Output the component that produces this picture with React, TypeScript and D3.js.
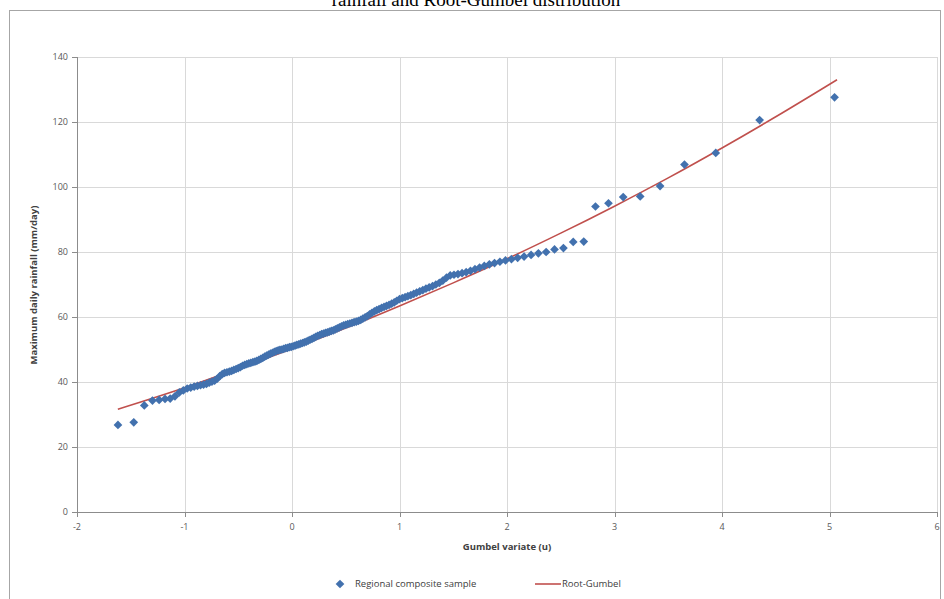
import React from "react";
import * as d3 from "d3";

const sampleU: number[] = [
  -1.619, -1.472, -1.374, -1.298, -1.236, -1.181, -1.133, -1.089, -1.048, -1.011,
  -0.975, -0.942, -0.91, -0.88, -0.851, -0.823, -0.796, -0.77, -0.745, -0.72,
  -0.696, -0.672, -0.649, -0.627, -0.605, -0.583, -0.562, -0.541, -0.52, -0.5,
  -0.48, -0.46, -0.44, -0.421, -0.402, -0.383, -0.364, -0.345, -0.327, -0.308,
  -0.29, -0.272, -0.254, -0.236, -0.218, -0.2, -0.182, -0.164, -0.147, -0.129,
  -0.112, -0.094, -0.077, -0.059, -0.042, -0.024, -0.007, 0.011, 0.028, 0.045,
  0.063, 0.08, 0.098, 0.115, 0.133, 0.151, 0.168, 0.186, 0.204, 0.221,
  0.239, 0.257, 0.275, 0.293, 0.311, 0.33, 0.348, 0.366, 0.385, 0.404,
  0.422, 0.441, 0.46, 0.48, 0.499, 0.518, 0.538, 0.558, 0.578, 0.598,
  0.618, 0.639, 0.659, 0.68, 0.701, 0.722, 0.744, 0.766, 0.788, 0.81,
  0.833, 0.856, 0.879, 0.903, 0.927, 0.951, 0.975, 1.0, 1.026, 1.052,
  1.078, 1.105, 1.132, 1.159, 1.188, 1.217, 1.246, 1.276, 1.307, 1.338,
  1.37, 1.403, 1.437, 1.472, 1.507, 1.544, 1.582, 1.62, 1.66, 1.702,
  1.745, 1.789, 1.836, 1.884, 1.934, 1.986, 2.041, 2.099, 2.159, 2.224,
  2.292, 2.364, 2.442, 2.525, 2.616, 2.714, 2.823, 2.944, 3.081, 3.239,
  3.424, 3.651, 3.942, 4.35, 5.047,
];

const sampleRain: number[] = [
  26.8, 27.6, 32.8, 34.3, 34.5, 34.8, 34.9, 35.6, 36.8, 37.4,
  38.0, 38.3, 38.6, 38.8, 39.0, 39.2, 39.4, 39.8, 40.1, 40.4,
  41.0, 41.8, 42.4, 42.8, 43.0, 43.2, 43.4, 43.7, 44.0, 44.3,
  44.6, 45.0, 45.3, 45.5, 45.7, 45.9, 46.1, 46.3, 46.5, 46.8,
  47.1, 47.4, 47.8, 48.1, 48.4, 48.7, 49.0, 49.3, 49.5, 49.7,
  49.9, 50.0, 50.2, 50.4, 50.5, 50.7, 50.8, 51.0, 51.2, 51.4,
  51.6, 51.8, 52.0, 52.2, 52.4, 52.7, 53.0, 53.3, 53.6, 53.9,
  54.2, 54.4, 54.7, 54.9, 55.1, 55.3, 55.5, 55.7, 55.9, 56.2,
  56.5, 56.8, 57.1, 57.4, 57.6, 57.8, 58.0, 58.2, 58.4, 58.6,
  58.8, 59.1, 59.5, 59.9, 60.3, 60.8, 61.3, 61.7, 62.1, 62.4,
  62.8, 63.1, 63.4, 63.7, 64.1, 64.5, 65.0, 65.5, 65.8, 66.1,
  66.4, 66.7, 67.1, 67.5, 67.9, 68.3, 68.7, 69.1, 69.5, 70.0,
  70.5, 71.2, 72.1, 72.8, 73.0, 73.2, 73.5, 73.8, 74.2, 74.7,
  75.2, 75.7, 76.2, 76.6, 77.0, 77.4, 77.8, 78.2, 78.6, 79.1,
  79.6, 80.0, 80.8, 81.2, 83.1, 83.2, 94.0, 95.0, 96.9, 97.1,
  100.3, 106.9, 110.5, 120.6, 127.6,
];

const fitU: number[] = [-1.62, -1, -0.5, 0, 0.5, 1, 1.5, 2, 2.5, 3, 3.5, 4, 4.5, 5.07];
const fitRain: number[] = [31.6, 38.2, 44.1, 50.2, 56.6, 63.4, 70.5, 77.9, 85.8, 94.1, 102.8, 112.0, 121.6, 133.0];

const xTicks: number[] = [-2, -1, 0, 1, 2, 3, 4, 5, 6];
const yTicks: number[] = [0, 20, 40, 60, 80, 100, 120, 140];

const titleText = "rainfall and Root-Gumbel distribution";
const xTitle = "Gumbel variate (u)";
const yTitle = "Maximum daily rainfall (mm/day)";
const seriesNames: string[] = ["Regional composite sample", "Root-Gumbel"];

const W = 944;
const H = 599;
const FONT = "'Open Sans', 'Noto Sans', sans-serif";
const BLUE = "#4271ae";
const RED = "#c0504d";
const GRID = "#d9d9d9";
const AXIS = "#8c8c8c";
const LABEL = "#595959";

export default function App() {
  const x = d3.scaleLinear().domain([-2, 6]).range([77, 937]);
  const y = d3.scaleLinear().domain([0, 140]).range([512, 57]);

  const linePath =
    d3
      .line<number>()
      .x((_, i) => x(fitU[i]))
      .y((d) => y(d))
      .curve(d3.curveMonotoneX)(fitRain) || "";

  const diamond = d3.symbol().type(d3.symbolSquare).size(38)() || "";

  const x0 = x(-2);
  const x1 = x(6);
  const yTop = y(140);
  const yBot = y(0);

  return (
    <div style={{ position: "absolute", left: 0, top: 0 }}>
      <svg width={W} height={H} style={{ display: "block", background: "#fff" }}>
        <rect x={0} y={0} width={W} height={H} fill="#fff" />
        <text
          x={476}
          y={6}
          textAnchor="middle"
          fontFamily="'Liberation Serif', 'Times New Roman', serif"
          fontSize={19}
          fill="#000"
        >
          {titleText}
        </text>
        <rect x={9.5} y={10.5} width={931} height={600} fill="none" stroke="#a6a6a6" strokeWidth={1} />

        {/* grid */}
        {yTicks.map((t) => (
          <line key={"gy" + t} x1={x0} x2={x1} y1={Math.round(y(t)) + 0.5} y2={Math.round(y(t)) + 0.5} stroke={GRID} strokeWidth={1} />
        ))}
        {xTicks.map((t) => (
          <line key={"gx" + t} x1={Math.round(x(t)) + 0.5} x2={Math.round(x(t)) + 0.5} y1={yTop} y2={yBot} stroke={GRID} strokeWidth={1} />
        ))}

        {/* axes */}
        <line x1={Math.round(x0) + 0.5} x2={Math.round(x0) + 0.5} y1={yTop} y2={yBot} stroke={AXIS} strokeWidth={1} />
        <line x1={x0} x2={x1} y1={Math.round(yBot) + 0.5} y2={Math.round(yBot) + 0.5} stroke={AXIS} strokeWidth={1} />
        {yTicks.map((t) => (
          <line key={"ty" + t} x1={x0 - 5} x2={x0} y1={Math.round(y(t)) + 0.5} y2={Math.round(y(t)) + 0.5} stroke={AXIS} strokeWidth={1} />
        ))}
        {xTicks.map((t) => (
          <line key={"tx" + t} x1={Math.round(x(t)) + 0.5} x2={Math.round(x(t)) + 0.5} y1={yBot} y2={yBot + 5} stroke={AXIS} strokeWidth={1} />
        ))}

        {/* tick labels */}
        {yTicks.map((t) => (
          <text key={"ly" + t} x={x0 - 9} y={y(t)} dy="0.35em" textAnchor="end" fontFamily={FONT} fontSize={9} fill={LABEL}>
            {t}
          </text>
        ))}
        {xTicks.map((t) => (
          <text key={"lx" + t} x={x(t)} y={yBot + 15} dy="0.35em" textAnchor="middle" fontFamily={FONT} fontSize={9} fill={LABEL}>
            {t}
          </text>
        ))}

        {/* axis titles */}
        <text x={507} y={547} dy="0.35em" textAnchor="middle" fontFamily={FONT} fontSize={9.5} fontWeight="bold" fill="#404040">
          {xTitle}
        </text>
        <text
          transform={`translate(34,285) rotate(-90)`}
          dy="0.35em"
          textAnchor="middle"
          fontFamily={FONT}
          fontSize={9.5}
          fontWeight="bold"
          fill="#404040"
        >
          {yTitle}
        </text>

        {/* fitted line */}
        <path d={linePath} fill="none" stroke={RED} strokeWidth={1.6} />

        {/* sample points */}
        {sampleRain.map((v, i) => (
          <path key={"p" + i} d={diamond} transform={`translate(${x(sampleU[i])},${y(v)}) rotate(45)`} fill={BLUE} />
        ))}

        {/* legend */}
        <path d={diamond} transform="translate(340,584) rotate(45)" fill={BLUE} />
        <text x={355} y={584} dy="0.35em" fontFamily={FONT} fontSize={9.5} fill="#404040">
          {seriesNames[0]}
        </text>
        <line x1={535} x2={561} y1={584} y2={584} stroke={RED} strokeWidth={1.6} />
        <text x={562} y={584} dy="0.35em" fontFamily={FONT} fontSize={9.5} fill="#404040">
          {seriesNames[1]}
        </text>
      </svg>
    </div>
  );
}
